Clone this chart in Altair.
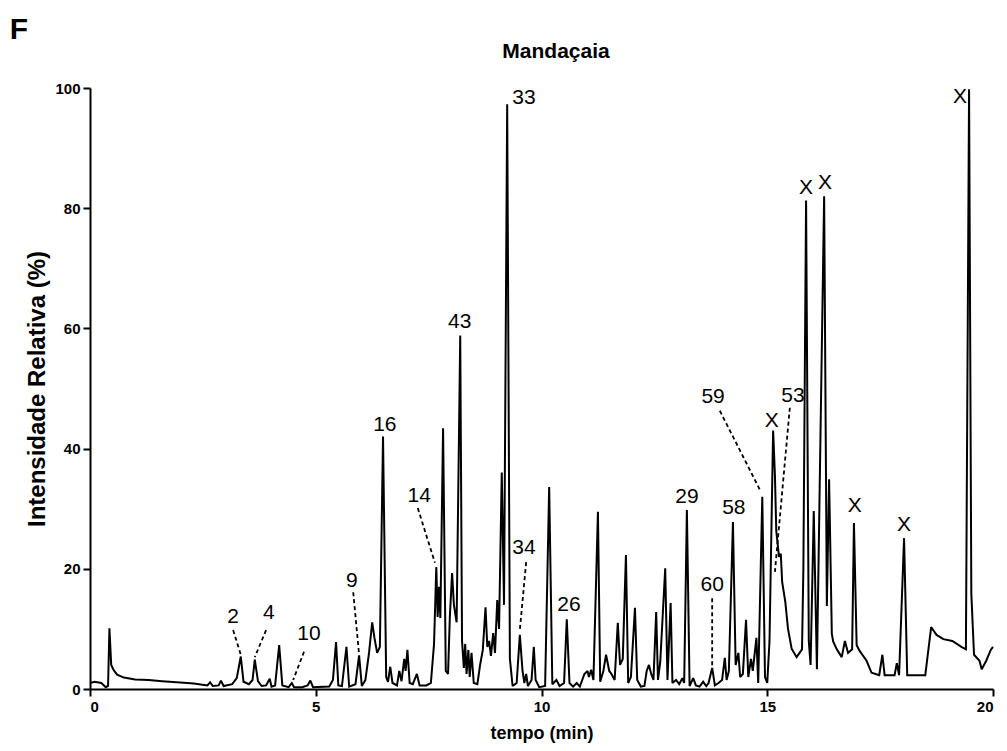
import altair as alt
import pandas as pd

# chromatogram trace (time in min, relative intensity in %)
trace_t = [0.00, 0.10, 0.25, 0.35, 0.40, 0.43, 0.47, 0.52, 0.60, 0.75, 1.00, 1.30, 1.60, 2.00, 2.30,
           2.60, 2.66, 2.72, 2.85, 2.90, 2.96, 3.15, 3.25, 3.34, 3.40, 3.52, 3.60, 3.65, 3.72, 3.80,
           3.90, 3.98, 4.02, 4.10, 4.19, 4.26, 4.40, 4.47, 4.52, 4.70, 4.82, 4.88, 4.94, 5.30, 5.38,
           5.45, 5.50, 5.58, 5.68, 5.74, 5.88, 5.96, 6.02, 6.10, 6.18, 6.25, 6.30, 6.36, 6.42, 6.49,
           6.56, 6.60, 6.65, 6.70, 6.80, 6.85, 6.90, 6.96, 6.99, 7.03, 7.08, 7.15, 7.24, 7.30, 7.45,
           7.55, 7.62, 7.67, 7.70, 7.73, 7.76, 7.82, 7.88, 7.93, 7.97, 8.02, 8.06, 8.12, 8.20, 8.24,
           8.28, 8.31, 8.34, 8.38, 8.41, 8.45, 8.50, 8.58, 8.64, 8.70, 8.76, 8.80, 8.84, 8.88, 8.93,
           8.97, 9.02, 9.06, 9.12, 9.17, 9.24, 9.30, 9.36, 9.45, 9.52, 9.58, 9.62, 9.66, 9.70, 9.78,
           9.83, 9.87, 9.95, 10.08, 10.17, 10.24, 10.33, 10.40, 10.50, 10.56, 10.62, 10.70, 10.78, 10.85, 10.95,
           11.02, 11.05, 11.10, 11.15, 11.25, 11.30, 11.37, 11.43, 11.50, 11.55, 11.62, 11.69, 11.74, 11.80, 11.87,
           11.92, 11.98, 12.07, 12.12, 12.20, 12.28, 12.33, 12.38, 12.43, 12.48, 12.54, 12.58, 12.63, 12.74, 12.79,
           12.86, 12.90, 12.98, 13.05, 13.12, 13.16, 13.22, 13.28, 13.36, 13.42, 13.50, 13.58, 13.65, 13.70, 13.78,
           13.84, 13.92, 14.00, 14.06, 14.10, 14.15, 14.24, 14.30, 14.36, 14.40, 14.46, 14.53, 14.58, 14.64, 14.68,
           14.76, 14.80, 14.89, 14.95, 15.00, 15.05, 15.13, 15.17, 15.20, 15.26, 15.30, 15.33, 15.40, 15.46, 15.54,
           15.65, 15.77, 15.80, 15.86, 15.92, 15.96, 16.03, 16.10, 16.26, 16.32, 16.37, 16.43, 16.46, 16.54, 16.65,
           16.72, 16.79, 16.88, 16.92, 16.98, 17.05, 17.20, 17.31, 17.48, 17.55, 17.60, 17.82, 17.87, 17.92, 18.03,
           18.10, 18.50, 18.63, 18.75, 18.90, 19.10, 19.30, 19.40, 19.47, 19.52, 19.58, 19.70, 19.75, 19.85, 19.95,
           20.00]
trace_i = [1.0, 1.2, 1.0, 0.3, 0.5, 10.1, 4.0, 3.2, 2.4, 1.9, 1.6, 1.5, 1.3, 1.1, 0.9,
           0.6, 1.1, 0.5, 0.6, 1.4, 0.5, 0.8, 1.8, 5.4, 1.2, 0.8, 1.5, 4.9, 1.3, 0.5,
           0.6, 1.7, 0.4, 0.6, 7.3, 0.6, 0.3, 1.0, 0.3, 0.3, 0.6, 1.4, 0.3, 0.4, 1.5,
           7.8, 0.6, 0.5, 7.0, 0.4, 0.8, 5.6, 0.5, 1.5, 6.0, 11.1, 8.5, 6.0, 7.0, 42.0,
           2.0, 1.2, 3.7, 1.0, 0.6, 3.0, 1.3, 5.0, 3.0, 6.5, 1.0, 0.8, 2.5, 0.6, 0.6,
           1.0, 7.5, 20.3, 12.0, 17.0, 11.8, 43.4, 3.0, 2.5, 12.0, 19.3, 14.0, 11.1, 58.8, 8.0,
           3.5, 7.5, 2.5, 6.5, 2.0, 6.0, 1.0, 0.8, 4.0, 6.5, 13.6, 7.0, 8.0, 5.5, 9.3,
           6.0, 14.8, 10.0, 36.0, 14.0, 97.3, 5.0, 0.5, 1.0, 9.0, 3.0, 1.0, 2.5, 0.5, 1.5,
           7.0, 1.5, 0.3, 0.5, 33.6, 0.8, 1.5, 0.5, 1.0, 11.6, 1.0, 0.4, 1.0, 0.4, 2.5,
           3.0, 2.0, 3.2, 1.5, 29.5, 1.2, 3.0, 5.7, 3.0, 2.5, 1.5, 11.0, 4.0, 5.0, 22.3,
           1.0, 2.0, 13.5, 1.5, 0.4, 0.5, 3.0, 4.0, 2.5, 1.5, 12.8, 1.5, 4.5, 20.1, 1.5,
           14.3, 1.0, 1.5, 0.8, 1.8, 1.0, 29.8, 0.5, 1.8, 0.6, 0.4, 1.2, 0.5, 1.0, 3.5,
           0.6, 1.0, 1.5, 5.2, 1.5, 3.0, 27.8, 4.0, 6.0, 2.0, 2.5, 11.5, 2.0, 5.0, 3.0,
           8.5, 1.0, 32.0, 2.0, 1.0, 8.0, 43.0, 35.6, 26.3, 22.0, 22.5, 17.8, 14.5, 10.0, 6.7,
           5.3, 6.6, 20.0, 81.3, 8.0, 4.0, 29.6, 3.3, 82.0, 13.8, 34.9, 9.2, 7.9, 6.6, 5.3,
           8.0, 6.0, 6.6, 27.6, 7.3, 6.3, 4.7, 2.7, 2.3, 5.7, 2.3, 2.3, 4.3, 2.3, 25.1,
           2.3, 2.3, 10.3, 9.0, 8.3, 8.0, 7.0, 6.6, 99.8, 15.8, 5.7, 4.7, 3.3, 4.7, 6.5,
           7.0]

# peak annotations
label_text = ["2", "4", "10", "9", "16", "14", "43", "33", "34", "26", "29", "60", "58", "59", "53",
              "X", "X", "X", "X", "X", "X"]
label_t = [3.17, 3.96, 4.85, 5.80, 6.53, 7.29, 8.19, 9.61, 9.61, 10.61, 13.22, 13.78, 14.26, 13.80, 15.57,
           15.10, 15.86, 16.28, 16.94, 18.03, 19.27]
label_i = [12.0, 12.7, 9.2, 18.0, 43.9, 32.1, 61.1, 98.3, 23.5, 14.0, 32.0, 17.3, 30.1, 48.6, 48.8,
           44.6, 83.4, 84.2, 30.4, 27.3, 98.5]

# dashed leader lines
lead_t1 = [3.17, 3.90, 4.74, 5.83, 7.26, 9.66, 13.78, 13.95, 15.50]
lead_i1 = [9.8, 9.8, 6.2, 16.1, 30.1, 21.1, 15.1, 46.3, 46.8]
lead_t2 = [3.34, 3.65, 4.50, 5.96, 7.64, 9.52, 13.78, 14.84, 15.17]
lead_i2 = [5.7, 5.3, 1.5, 5.7, 21.0, 9.8, 3.5, 33.1, 19.5]

# panel letter and title
panel_letter = "F"
panel_title = "Mandaçaia"

trace = pd.DataFrame({"t": trace_t, "i": trace_i})
labels = pd.DataFrame({"t": label_t, "i": label_i, "txt": label_text})
leads = pd.DataFrame({"t1": lead_t1, "i1": lead_i1, "t2": lead_t2, "i2": lead_i2})

FONT = "Liberation Sans"

xscale = alt.Scale(domain=[0, 20], nice=False, zero=False)
yscale = alt.Scale(domain=[0, 100], nice=False)

xaxis = alt.Axis(values=[0, 5, 10, 15, 20], title="tempo (min)", format="d",
                 titlePadding=10, labelPadding=3, titleFontSize=18)
yaxis = alt.Axis(values=[0, 20, 40, 60, 80, 100], title="Intensidade Relativa (%)",
                 titlePadding=5, labelPadding=3, titleFontSize=24)

line = alt.Chart(trace).mark_line(color="black", strokeWidth=2, strokeJoin="miter", strokeMiterLimit=2).encode(
    x=alt.X("t:Q", scale=xscale, axis=xaxis),
    y=alt.Y("i:Q", scale=yscale, axis=yaxis),
    order="t:Q",
)

rules = alt.Chart(leads).mark_rule(color="black", strokeWidth=1.8, strokeDash=[4, 3]).encode(
    x=alt.X("t1:Q", scale=xscale),
    y=alt.Y("i1:Q", scale=yscale),
    x2="t2:Q",
    y2="i2:Q",
)

texts = alt.Chart(labels).mark_text(font=FONT, fontSize=21, color="black", align="center",
                                     baseline="middle").encode(
    x=alt.X("t:Q", scale=xscale),
    y=alt.Y("i:Q", scale=yscale),
    text="txt:N",
)

one = pd.DataFrame({"a": [0]})
letter = alt.Chart(one).mark_text(
    font=FONT, fontSize=30, fontWeight="bold", color="black", align="center", baseline="middle"
).encode(x=alt.value(-71), y=alt.value(-58), text=alt.value(panel_letter))

title = alt.Chart(one).mark_text(
    font=FONT, fontSize=21, fontWeight="bold", color="black", align="center", baseline="middle"
).encode(x=alt.value(466), y=alt.value(-36), text=alt.value(panel_title))

chart = alt.layer(line, rules, texts, letter, title).properties(
    width=903,
    height=601,
    autosize=alt.AutoSizeParams(type="none"),
    padding={"left": 90, "top": 88, "right": 14, "bottom": 62},
    background="white",
).configure_view(stroke=None).configure_axis(
    domainColor="black", domainWidth=2, tickColor="black", tickWidth=2, tickSize=7,
    labelFont=FONT, labelFontWeight="bold", labelFontSize=15, labelColor="black",
    titleFont=FONT, titleFontWeight="bold", titleColor="black",
    grid=False,
)

chart.save("out.html", embed_options={"renderer": "svg", "actions": False})
